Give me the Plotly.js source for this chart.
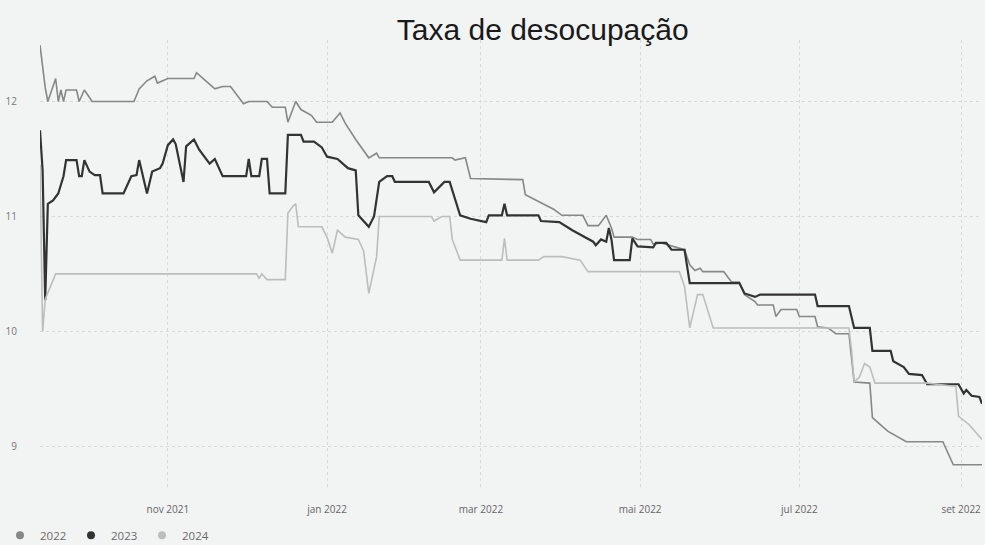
<!DOCTYPE html>
<html>
<head>
<meta charset="utf-8">
<script src="https://cdn.plot.ly/plotly-3.0.1.min.js"></script>
<style>html,body{margin:0;padding:0;background:#f2f3f3;}#chart{width:985px;height:545px;}</style>
</head>
<body>
<div id="chart"></div>
<script>
// Série 2022
const dates2022 = ["2021-09-13","2021-09-15","2021-09-16","2021-09-19","2021-09-20","2021-09-21","2021-09-22","2021-09-23","2021-09-27","2021-09-28","2021-09-30","2021-10-03","2021-10-19","2021-10-21","2021-10-24","2021-10-27","2021-10-28","2021-11-01","2021-11-11","2021-11-12","2021-11-15","2021-11-19","2021-11-22","2021-11-25","2021-11-30","2021-12-02","2021-12-09","2021-12-11","2021-12-16","2021-12-17","2021-12-20","2021-12-22","2021-12-26","2021-12-28","2022-01-03","2022-01-06","2022-01-08","2022-01-12","2022-01-17","2022-01-20","2022-01-21","2022-02-18","2022-02-19","2022-02-23","2022-02-25","2022-03-17","2022-03-18","2022-03-22","2022-03-29","2022-04-01","2022-04-09","2022-04-11","2022-04-15","2022-04-18","2022-04-20","2022-04-21","2022-04-28","2022-04-30","2022-05-05","2022-05-06","2022-05-09","2022-05-18","2022-05-20","2022-05-22","2022-05-24","2022-05-25","2022-06-02","2022-06-05","2022-06-08","2022-06-10","2022-06-14","2022-06-15","2022-06-21","2022-06-22","2022-06-24","2022-06-30","2022-07-01","2022-07-07","2022-07-08","2022-07-12","2022-07-15","2022-07-20","2022-07-22","2022-07-28","2022-07-29","2022-08-02","2022-08-04","2022-08-11","2022-08-25","2022-08-29","2022-09-09"];
const values2022 = [12.49,12.12,12.00,12.20,12.00,12.10,12.00,12.10,12.10,12.00,12.10,12.00,12.00,12.11,12.18,12.22,12.16,12.20,12.20,12.25,12.19,12.11,12.13,12.13,11.98,12.00,12.00,11.95,11.95,11.82,12.00,11.93,11.88,11.82,11.82,11.90,11.81,11.67,11.51,11.55,11.51,11.51,11.49,11.51,11.33,11.32,11.19,11.14,11.06,11.01,11.01,10.92,10.92,11.01,10.90,10.82,10.82,10.80,10.80,10.76,10.77,10.71,10.58,10.53,10.55,10.52,10.52,10.43,10.43,10.32,10.26,10.23,10.23,10.13,10.19,10.19,10.13,10.13,10.04,10.03,9.98,9.98,9.56,9.55,9.25,9.17,9.13,9.04,9.04,8.84,8.84];

// Série 2023
const dates2023 = ["2021-09-13","2021-09-14","2021-09-15","2021-09-16","2021-09-18","2021-09-20","2021-09-22","2021-09-23","2021-09-27","2021-09-28","2021-09-29","2021-09-30","2021-10-02","2021-10-04","2021-10-06","2021-10-07","2021-10-15","2021-10-18","2021-10-20","2021-10-21","2021-10-24","2021-10-26","2021-10-29","2021-10-30","2021-11-01","2021-11-03","2021-11-04","2021-11-07","2021-11-08","2021-11-11","2021-11-13","2021-11-15","2021-11-17","2021-11-19","2021-11-22","2021-12-01","2021-12-02","2021-12-03","2021-12-06","2021-12-07","2021-12-09","2021-12-10","2021-12-16","2021-12-17","2021-12-22","2021-12-23","2021-12-27","2021-12-30","2022-01-01","2022-01-05","2022-01-09","2022-01-12","2022-01-13","2022-01-17","2022-01-19","2022-01-21","2022-01-24","2022-01-26","2022-01-27","2022-02-09","2022-02-11","2022-02-15","2022-02-17","2022-02-21","2022-02-25","2022-03-03","2022-03-04","2022-03-09","2022-03-10","2022-03-11","2022-03-23","2022-03-24","2022-03-31","2022-04-05","2022-04-09","2022-04-13","2022-04-14","2022-04-16","2022-04-18","2022-04-19","2022-04-20","2022-04-21","2022-04-27","2022-04-28","2022-04-30","2022-05-06","2022-05-07","2022-05-11","2022-05-13","2022-05-18","2022-05-20","2022-06-08","2022-06-10","2022-06-14","2022-06-16","2022-07-07","2022-07-08","2022-07-20","2022-07-22","2022-07-28","2022-07-29","2022-08-05","2022-08-06","2022-08-10","2022-08-12","2022-08-17","2022-08-19","2022-08-31","2022-09-02","2022-09-03","2022-09-05","2022-09-08","2022-09-09"];
const values2023 = [11.75,11.40,10.27,11.11,11.14,11.20,11.35,11.49,11.49,11.35,11.35,11.49,11.39,11.36,11.36,11.20,11.20,11.35,11.36,11.49,11.20,11.39,11.42,11.46,11.62,11.67,11.63,11.30,11.61,11.67,11.58,11.52,11.46,11.50,11.35,11.35,11.50,11.35,11.35,11.50,11.50,11.20,11.20,11.71,11.71,11.65,11.65,11.60,11.52,11.50,11.42,11.40,11.01,10.91,11.00,11.30,11.35,11.35,11.30,11.30,11.21,11.30,11.30,11.01,10.98,10.95,11.01,11.01,11.11,11.01,11.01,10.96,10.95,10.88,10.83,10.78,10.75,10.80,10.78,10.90,10.80,10.62,10.62,10.81,10.74,10.73,10.77,10.77,10.71,10.71,10.42,10.42,10.33,10.30,10.32,10.32,10.22,10.22,10.03,10.03,9.83,9.83,9.74,9.69,9.63,9.62,9.54,9.54,9.46,9.49,9.44,9.43,9.37];

// Série 2024
const dates2024 = ["2021-09-13","2021-09-14","2021-09-15","2021-09-19","2021-12-05","2021-12-06","2021-12-07","2021-12-09","2021-12-16","2021-12-17","2021-12-19","2021-12-20","2021-12-21","2021-12-30","2022-01-01","2022-01-03","2022-01-05","2022-01-08","2022-01-13","2022-01-15","2022-01-17","2022-01-20","2022-01-21","2022-02-10","2022-02-11","2022-02-14","2022-02-17","2022-02-18","2022-02-21","2022-03-09","2022-03-10","2022-03-11","2022-03-23","2022-03-25","2022-04-01","2022-04-08","2022-04-11","2022-05-16","2022-05-18","2022-05-20","2022-05-23","2022-05-25","2022-05-29","2022-07-20","2022-07-21","2022-07-22","2022-07-24","2022-07-26","2022-07-28","2022-07-30","2022-08-19","2022-08-30","2022-08-31","2022-09-04","2022-09-09"];
const values2024 = [11.45,10.00,10.28,10.50,10.50,10.46,10.50,10.45,10.45,11.03,11.09,11.11,10.91,10.91,10.82,10.68,10.88,10.82,10.80,10.70,10.33,10.65,11.00,11.00,10.96,11.00,11.00,10.80,10.62,10.62,10.81,10.62,10.62,10.65,10.65,10.62,10.52,10.52,10.39,10.03,10.32,10.32,10.03,10.03,9.84,9.56,9.60,9.72,9.69,9.55,9.55,9.52,9.26,9.19,9.06];

const seriesNames = ["2022", "2023", "2024"];
const tickDates = ["2021-11-01","2022-01-01","2022-03-01","2022-05-01","2022-07-01","2022-09-01"];
const tickLabels = ["nov 2021","jan 2022","mar 2022","mai 2022","jul 2022","set 2022"];
const yTicks = [9, 10, 11, 12];

const colors = ["#878787", "#333333", "#bdbdbd"];
const widths = [1.6, 2.2, 1.6];
const allDates = [dates2022, dates2023, dates2024];
const allValues = [values2022, values2023, values2024];

const traces = [];
seriesNames.forEach((n, i) => {
  traces.push({
    x: allDates[i], y: allValues[i], type: "scatter", mode: "lines", name: n,
    line: {color: colors[i], width: widths[i]}, showlegend: false, hoverinfo: "x+y"
  });
});
seriesNames.forEach((n, i) => {
  traces.push({
    x: [null], y: [null], type: "scatter", mode: "markers", name: n,
    marker: {color: colors[i], size: 8, symbol: "circle"}, showlegend: true
  });
});

const layout = {
  width: 985, height: 545,
  paper_bgcolor: "#f2f3f3", plot_bgcolor: "#f2f3f3",
  margin: {l: 40, r: 3, t: 40, b: 55},
  font: {family: "Open Sans, DejaVu Sans, sans-serif", color: "#666"},
  title: {
    text: "Taxa de desocupação",
    font: {family: "Liberation Sans, Arial, sans-serif", size: 30, color: "#1a1a1a"},
    x: 0.551, xanchor: "center", xref: "container",
    y: 0.945, yanchor: "middle", yref: "container"
  },
  xaxis: {
    type: "date", range: ["2021-09-13", "2022-09-09"],
    tickvals: tickDates, ticktext: tickLabels,
    tickfont: {size: 10, color: "#666"},
    showgrid: true, gridcolor: "#d9d9d9", griddash: "dot", gridwidth: 1,
    ticks: "outside", ticklen: 10, tickcolor: "rgba(0,0,0,0)",
    zeroline: false, showline: false
  },
  yaxis: {
    range: [8.62, 12.535],
    tickvals: yTicks, ticktext: yTicks.map(String),
    tickfont: {size: 10, color: "#777"},
    showgrid: true, gridcolor: "#d9d9d9", griddash: "dot", gridwidth: 1,
    ticks: "outside", ticklen: 20, tickcolor: "rgba(0,0,0,0)",
    zeroline: false, showline: false
  },
  legend: {
    orientation: "h", x: 0, xref: "container", xanchor: "left",
    y: 0.018, yref: "container", yanchor: "middle",
    font: {size: 11.5, color: "#6a6a6a"}, itemwidth: 30,
    entrywidth: 26, entrywidthmode: "pixels", bgcolor: "rgba(0,0,0,0)"
  },
  showlegend: true
};

Plotly.newPlot("chart", traces, layout, {staticPlot: true, displayModeBar: false});
</script>
</body>
</html>
